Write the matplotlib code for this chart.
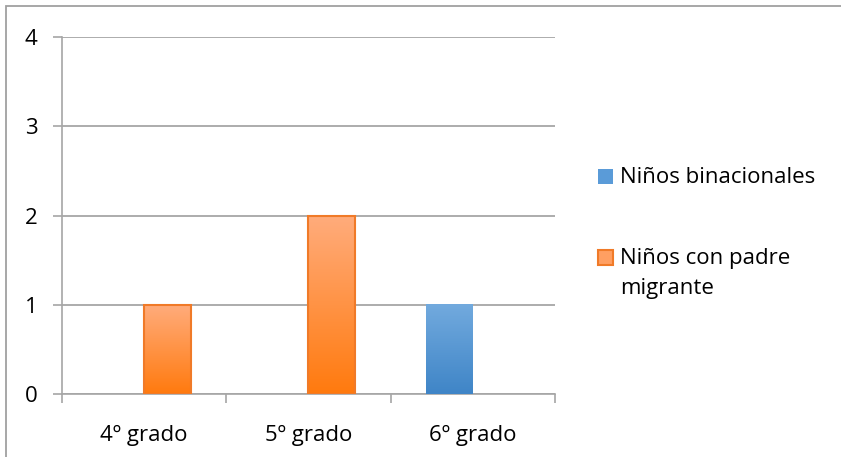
import numpy as np
import matplotlib
matplotlib.use("Agg")
import matplotlib.pyplot as plt
from matplotlib.patches import Rectangle
from matplotlib.colors import LinearSegmentedColormap

categories = ["4º grado", "5º grado", "6º grado"]
series_names = ["Niños binacionales", "Niños con padre\nmigrante"]
binacionales = [0, 0, 1]
padre_migrante = [1, 2, 0]
yticks = [0, 1, 2, 3, 4]

W, H = 841, 457
plt.rcParams['font.family'] = ['Open Sans', 'DejaVu Sans']
fig = plt.figure(figsize=(W / 100, H / 100), dpi=100)

ax = fig.add_axes([62 / W, 1 - 394 / H, (555 - 62) / W, (394 - 37) / H])

x = np.arange(len(categories))
bw = 1 / 3.5
blue_cmap = LinearSegmentedColormap.from_list("b", ["#3F85C7", "#72AADE"])
orange_cmap = LinearSegmentedColormap.from_list("o", ["#FF7A0E", "#FFAC7C"])

b1 = ax.bar(x - bw / 2, binacionales, bw, color="none", edgecolor="none", zorder=4)
b2 = ax.bar(x + bw / 2, padre_migrante, bw, color="none", edgecolor="#F07A28",
            linewidth=1.5, zorder=4)

grad = np.linspace(0, 1, 256).reshape(-1, 1)
for bars, cmap in ((b1, blue_cmap), (b2, orange_cmap)):
    for r in bars:
        if r.get_height() <= 0:
            r.set_visible(False)
            continue
        x0, y0, w, h = r.get_x(), r.get_y(), r.get_width(), r.get_height()
        ax.imshow(grad, cmap=cmap, origin="lower", aspect="auto",
                  extent=(x0, x0 + w, y0, y0 + h), zorder=3)

ax.set_xlim(-0.5, len(categories) - 0.5)
ax.set_ylim(0, 4)
ax.set_yticks(yticks)
ax.set_yticklabels([str(v) for v in yticks])
ax.yaxis.grid(True, color="#A6A6A6", linewidth=1.3, zorder=0)
ax.set_axisbelow(True)
ax.set_xticks(x)
ax.set_xticklabels(categories)
ax.set_xticks(np.arange(len(categories) + 1) - 0.5, minor=True)
ax.tick_params(axis="x", which="major", length=0, pad=22, labelsize=16)
ax.tick_params(axis="x", which="minor", length=6.5, color="#A6A6A6", width=1.2)
ax.tick_params(axis="y", length=6.5, color="#A6A6A6", width=1.2, pad=11, labelsize=16)
for s in ("top", "right"):
    ax.spines[s].set_visible(False)
for s in ("left", "bottom"):
    ax.spines[s].set_color("#A6A6A6")
    ax.spines[s].set_linewidth(1.2)

# legend drawn manually to match layout
legend_items = [
    (series_names[0], "#5A9BD8", "none", 169),
    (series_names[1], "#FF9F62", "#F07A28", 250),
]
for label, fc, ec, ytop in legend_items:
    fig.add_artist(Rectangle((598 / W, 1 - (ytop + 15) / H), 15 / W, 15 / H,
                             transform=fig.transFigure, facecolor=fc, edgecolor=ec,
                             linewidth=1.5))
    for i, line in enumerate(label.split("\n")):
        fig.text(620 / W, 1 - (ytop + 14 + 30 * i) / H, line, ha="left",
                 va="baseline", fontsize=16)

# outer border
fig.add_artist(Rectangle((6 / W, -0.1), 1.2, 1 - 6.5 / H + 0.1, transform=fig.transFigure,
                         fill=False, edgecolor="#A0A0A0", linewidth=1.3))

fig.savefig("out.png", dpi=100)
